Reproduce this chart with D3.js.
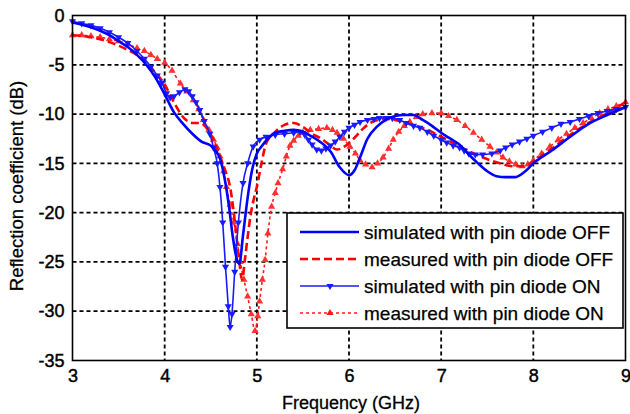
<!DOCTYPE html>
<html><head><meta charset="utf-8">
<script src="https://cdn.jsdelivr.net/npm/d3@7/dist/d3.min.js"></script>
<style>body{margin:0;background:#fff}svg{display:block}text{font-family:"Liberation Sans",Arial,sans-serif;fill:#000}</style>
</head><body><svg id="c" width="630" height="414"></svg>
<script>
const xTicks=[3,4,5,6,7,8,9];
const yTicks=[0,-5,-10,-15,-20,-25,-30,-35];
const seriesNames=["simulated with pin diode OFF","measured with pin diode OFF","simulated with pin diode ON","measured with pin diode ON"];
const simOff=[[3.0,-0.7],[3.2,-1.2],[3.4,-2.0],[3.5,-2.6],[3.6,-3.2],[3.7,-4.0],[3.8,-5.0],[3.9,-6.3],[4.0,-8.0],[4.1,-9.8],[4.2,-11.0],[4.3,-12.0],[4.4,-12.8],[4.5,-13.2],[4.55,-13.7],[4.6,-14.5],[4.65,-16.5],[4.7,-19.5],[4.74,-22.5],[4.78,-24.6],[4.81,-25.2],[4.85,-22.3],[4.9,-18.5],[4.95,-15.6],[5.0,-14.0],[5.05,-13.3],[5.13,-12.4],[5.2,-11.9],[5.3,-11.7],[5.4,-11.6],[5.5,-11.8],[5.6,-12.3],[5.7,-12.9],[5.8,-13.8],[5.9,-15.4],[6.0,-16.2],[6.06,-15.7],[6.12,-14.4],[6.2,-12.5],[6.3,-11.3],[6.4,-10.6],[6.5,-10.2],[6.6,-10.1],[6.7,-10.1],[6.8,-10.6],[6.9,-11.2],[7.0,-11.9],[7.1,-12.5],[7.2,-13.1],[7.3,-14.1],[7.4,-15.0],[7.5,-15.8],[7.6,-16.3],[7.7,-16.4],[7.8,-16.4],[7.9,-15.9],[8.0,-15.0],[8.2,-13.7],[8.4,-12.3],[8.6,-11.0],[8.8,-10.1],[9.0,-9.3]];
const measOff=[[3.0,-2.0],[3.2,-2.2],[3.4,-2.7],[3.6,-3.5],[3.73,-4.2],[3.87,-5.5],[4.0,-7.0],[4.1,-8.8],[4.2,-10.3],[4.3,-10.9],[4.38,-10.9],[4.49,-11.9],[4.6,-14.3],[4.66,-15.8],[4.71,-17.4],[4.75,-20.0],[4.78,-22.5],[4.81,-25.0],[4.84,-26.8],[4.87,-24.8],[4.9,-22.5],[4.93,-20.4],[4.97,-18.5],[5.0,-17.4],[5.05,-15.0],[5.1,-13.0],[5.18,-12.0],[5.3,-11.1],[5.4,-10.9],[5.5,-11.3],[5.6,-12.0],[5.7,-12.5],[5.8,-13.2],[5.87,-13.6],[5.95,-13.3],[6.05,-12.5],[6.15,-11.5],[6.25,-10.8],[6.4,-10.5],[6.55,-10.7],[6.7,-11.1],[6.85,-11.6],[7.0,-12.3],[7.2,-13.3],[7.4,-14.2],[7.6,-14.9],[7.8,-15.3],[7.9,-15.3],[8.0,-14.8],[8.2,-13.5],[8.4,-12.1],[8.6,-10.9],[8.8,-9.9],[9.0,-8.8]];
const simOn=[[3.0,-0.6],[3.1,-0.8],[3.2,-1.0],[3.3,-1.3],[3.4,-1.7],[3.5,-2.2],[3.6,-2.8],[3.7,-3.6],[3.78,-4.4],[3.85,-5.2],[3.92,-6.1],[3.97,-6.8],[4.02,-7.9],[4.06,-8.3],[4.1,-8.2],[4.16,-7.8],[4.22,-7.5],[4.26,-7.7],[4.3,-8.2],[4.34,-8.8],[4.38,-9.6],[4.43,-10.7],[4.49,-12.0],[4.53,-13.4],[4.57,-15.0],[4.6,-17.4],[4.63,-21.0],[4.66,-25.5],[4.69,-29.5],[4.71,-31.6],[4.73,-30.3],[4.76,-26.0],[4.8,-21.0],[4.85,-17.0],[4.9,-15.0],[4.96,-13.3],[5.03,-12.6],[5.1,-12.3],[5.2,-12.1],[5.3,-12.0],[5.4,-11.9],[5.47,-11.8],[5.52,-12.1],[5.56,-12.6],[5.6,-13.1],[5.65,-13.6],[5.7,-13.7],[5.75,-13.5],[5.8,-13.2],[5.85,-12.8],[5.9,-12.3],[5.95,-11.8],[6.0,-11.4],[6.06,-11.1],[6.12,-10.8],[6.2,-10.6],[6.27,-10.5],[6.33,-10.4],[6.4,-10.4],[6.47,-10.4],[6.55,-10.6],[6.62,-10.9],[6.7,-11.2],[6.77,-11.4],[6.85,-11.8],[6.92,-12.2],[7.0,-12.6],[7.06,-12.9],[7.13,-13.2],[7.2,-13.4],[7.25,-13.7],[7.3,-14.0],[7.37,-14.1],[7.45,-14.1],[7.55,-14.0],[7.64,-13.7],[7.7,-13.4],[7.77,-13.1],[7.85,-12.8],[7.93,-12.5],[8.0,-12.2],[8.1,-11.8],[8.2,-11.4],[8.3,-11.0],[8.4,-10.8],[8.5,-10.5],[8.6,-10.2],[8.7,-9.9],[8.8,-9.7],[8.9,-9.5],[9.0,-9.3]];
const measOn=[[3.0,-2.0],[3.1,-2.0],[3.2,-2.1],[3.3,-2.2],[3.4,-2.4],[3.5,-2.6],[3.6,-2.9],[3.7,-3.3],[3.78,-3.6],[3.85,-4.0],[3.92,-4.4],[4.0,-4.8],[4.08,-5.6],[4.17,-6.9],[4.24,-7.7],[4.31,-8.6],[4.37,-9.5],[4.42,-10.6],[4.48,-11.6],[4.53,-12.6],[4.57,-13.4],[4.6,-14.3],[4.64,-15.8],[4.67,-17.4],[4.71,-19.2],[4.75,-21.0],[4.79,-23.2],[4.82,-25.0],[4.86,-26.8],[4.9,-28.5],[4.94,-30.3],[4.98,-32.0],[5.01,-30.5],[5.03,-29.0],[5.06,-26.8],[5.09,-24.8],[5.12,-22.1],[5.16,-19.4],[5.2,-18.0],[5.23,-17.0],[5.28,-15.6],[5.32,-14.3],[5.36,-13.2],[5.4,-12.7],[5.45,-12.2],[5.5,-11.9],[5.58,-11.6],[5.67,-11.5],[5.76,-11.4],[5.82,-11.6],[5.87,-11.9],[5.94,-12.5],[6.01,-13.3],[6.07,-14.0],[6.12,-14.7],[6.18,-15.1],[6.25,-15.4],[6.31,-15.0],[6.37,-14.4],[6.43,-13.5],[6.48,-12.6],[6.54,-11.8],[6.6,-11.2],[6.66,-10.8],[6.73,-10.3],[6.8,-10.0],[6.9,-9.9],[7.0,-9.9],[7.08,-10.2],[7.17,-10.6],[7.26,-11.2],[7.35,-11.9],[7.44,-12.6],[7.53,-13.3],[7.6,-13.9],[7.67,-14.4],[7.74,-14.8],[7.81,-15.1],[7.88,-15.3],[7.94,-15.1],[8.0,-14.7],[8.09,-14.0],[8.18,-13.3],[8.27,-12.6],[8.36,-12.0],[8.45,-11.4],[8.54,-10.9],[8.63,-10.4],[8.72,-9.9],[8.81,-9.5],[8.9,-9.2],[9.0,-8.8]];

const svg=d3.select("#c");
svg.append("rect").attr("width",630).attr("height",414).attr("fill","#fff");
const L=72.5,R=625.5,T=15.5,B=360.5;
const x=d3.scaleLinear().domain([3,9]).range([L,R]);
const y=d3.scaleLinear().domain([-35,0]).range([B,T]);

// grid
const g=svg.append("g");
g.selectAll("line.gx").data(xTicks.slice(1,-1)).enter().append("line")
 .attr("x1",d=>x(d)).attr("x2",d=>x(d)).attr("y1",T).attr("y2",B)
 .attr("stroke","#000").attr("stroke-width",1.8).attr("stroke-dasharray","4,3");
g.selectAll("line.gy").data(yTicks.slice(1,-1)).enter().append("line")
 .attr("y1",d=>y(d)).attr("y2",d=>y(d)).attr("x1",L).attr("x2",R)
 .attr("stroke","#000").attr("stroke-width",1.8).attr("stroke-dasharray","4,3");

// axes
const xa=svg.append("g").attr("transform",`translate(0,${B})`)
 .call(d3.axisBottom(x).tickValues(xTicks).tickFormat(d3.format("d")).tickSize(0).tickPadding(9));
const ya=svg.append("g").attr("transform",`translate(${L},0)`)
 .call(d3.axisLeft(y).tickValues(yTicks).tickFormat(d=>d3.format("d")(d).replace("−","-")).tickSize(0).tickPadding(8));
[xa,ya].forEach(a=>{a.select(".domain").remove();a.selectAll("text").attr("font-size",18).attr("font-family","Liberation Sans, Arial, sans-serif").attr("fill","#000").attr("stroke","#000").attr("stroke-width",0.45);});

const line=d3.line().x(d=>x(d[0])).y(d=>y(d[1])).curve(d3.curveMonotoneX);
const plot=svg.append("g");
const tri=d3.symbol().type(d3.symbolTriangle).size(22);

plot.append("path").datum(measOn).attr("d",line).attr("fill","none").attr("stroke","#ff1a1a").attr("stroke-width",1.6).attr("stroke-dasharray","3,3");
plot.selectAll("path.mon").data(measOn).enter().append("path").attr("d",tri)
 .attr("transform",d=>`translate(${x(d[0])},${y(d[1])})`).attr("fill","#ff3030");
plot.append("path").datum(measOff).attr("d",line).attr("fill","none").attr("stroke","#ff0000").attr("stroke-width",2.6).attr("stroke-dasharray","8,4");
plot.append("path").datum(simOn).attr("d",line).attr("fill","none").attr("stroke","#1a1aff").attr("stroke-width",1.6);
plot.selectAll("path.son").data(simOn).enter().append("path").attr("d",tri)
 .attr("transform",d=>`translate(${x(d[0])},${y(d[1])}) rotate(180)`).attr("fill","#1a1aff");
plot.append("path").datum(simOff).attr("d",line).attr("fill","none").attr("stroke","#0000ff").attr("stroke-width",2.6);

// frame
svg.append("rect").attr("x",L).attr("y",T).attr("width",R-L).attr("height",B-T).attr("fill","none").attr("stroke","#000").attr("stroke-width",1.6);

// axis labels
svg.append("text").attr("x",(L+R)/2+2).attr("y",409).attr("text-anchor","middle").attr("font-size",18).attr("stroke","#000").attr("stroke-width",0.3).text("Frequency (GHz)");
svg.append("text").attr("transform",`translate(23,${(T+B)/2-2}) rotate(-90)`).attr("text-anchor","middle").attr("font-size",18.5).attr("stroke","#000").attr("stroke-width",0.3).text("Reflection coefficient (dB)");

// legend
const lg=svg.append("g");
lg.append("rect").attr("x",287).attr("y",213).attr("width",336).attr("height",115).attr("fill","#fff").attr("stroke","#000").attr("stroke-width",1.6);
const rows=[232,259,286,313];
const styles=[
 {c:"#0000ff",w:2.6,da:null,m:null},
 {c:"#ff0000",w:2.6,da:"8,4",m:null},
 {c:"#1a1aff",w:1.6,da:null,m:"down"},
 {c:"#ff1a1a",w:1.6,da:"3,3",m:"up"}];
seriesNames.forEach((n,i)=>{
 const s=styles[i];
 lg.append("line").attr("x1",300).attr("x2",359).attr("y1",rows[i]).attr("y2",rows[i]).attr("stroke",s.c).attr("stroke-width",s.w).attr("stroke-dasharray",s.da);
 if(s.m) lg.append("path").attr("d",tri).attr("fill",s.c).attr("transform",`translate(330,${rows[i]})${s.m==="down"?" rotate(180)":""}`);
 lg.append("text").attr("x",364).attr("y",rows[i]+6.5).attr("font-size",19).attr("stroke","#000").attr("stroke-width",0.25).text(n);
});
</script></body></html>
